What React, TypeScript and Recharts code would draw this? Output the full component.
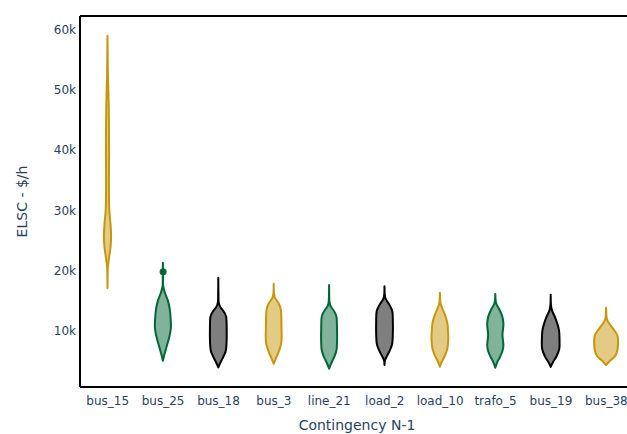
import { ComposedChart, Bar, Scatter, XAxis, YAxis, ReferenceLine } from "recharts";

// contingency cases along the x axis
const CATEGORIES = [
  "bus_15",
  "bus_25",
  "bus_18",
  "bus_3",
  "line_21",
  "load_2",
  "load_10",
  "trafo_5",
  "bus_19",
  "bus_38",
];

// violin outlines: [ELSC $/h, relative density]
// first and last entries are the min / max of each distribution
const PROFILES: [number, number][][] = [
  [[17100, 0], [19000, 0.01], [20500, 0.03], [22000, 0.12], [24000, 0.26], [26000, 0.3], [28000, 0.24], [30500, 0.14], [35000, 0.12], [40000, 0.13], [45000, 0.12], [48500, 0.09], [52000, 0.04], [55000, 0.02], [59000, 0]],
  [[5000, 0], [6000, 0.12], [7500, 0.33], [9000, 0.54], [10500, 0.67], [12000, 0.65], [13500, 0.58], [15000, 0.42], [16300, 0.17], [17500, 0.02], [19000, 0.01], [21300, 0]],
  [[3900, 0], [4800, 0.2], [5800, 0.45], [6800, 0.64], [8500, 0.7], [10500, 0.7], [12300, 0.66], [13200, 0.45], [14000, 0.15], [14800, 0.03], [16500, 0.01], [18800, 0]],
  [[4500, 0], [5500, 0.2], [6500, 0.42], [7800, 0.62], [9000, 0.67], [10500, 0.65], [12000, 0.64], [13500, 0.6], [14600, 0.4], [15500, 0.1], [16300, 0.02], [17800, 0]],
  [[3700, 0], [4600, 0.18], [5600, 0.42], [6800, 0.62], [8500, 0.67], [10500, 0.66], [12300, 0.62], [13300, 0.4], [14200, 0.1], [15200, 0.02], [17600, 0]],
  [[4300, 0], [5000, 0.03], [5600, 0.15], [6600, 0.42], [7800, 0.64], [9500, 0.7], [11500, 0.7], [13200, 0.66], [14300, 0.42], [15200, 0.12], [16000, 0.02], [17400, 0]],
  [[4000, 0], [4800, 0.15], [5800, 0.4], [7000, 0.62], [8500, 0.7], [10000, 0.68], [11300, 0.62], [12500, 0.45], [13600, 0.22], [14500, 0.06], [15300, 0.02], [16300, 0]],
  [[3850, 0], [4700, 0.15], [5600, 0.38], [6500, 0.58], [7600, 0.68], [9300, 0.6], [11000, 0.68], [12300, 0.6], [13500, 0.35], [14400, 0.1], [15200, 0.02], [16100, 0]],
  [[4000, 0], [4800, 0.2], [5800, 0.5], [7000, 0.72], [8500, 0.74], [10000, 0.7], [11200, 0.55], [12300, 0.35], [13300, 0.12], [14300, 0.02], [16000, 0]],
  [[4300, 0], [5000, 0.32], [5800, 0.76], [6800, 0.95], [8000, 1.0], [9200, 0.95], [10200, 0.64], [11200, 0.26], [12000, 0.06], [12800, 0.02], [13800, 0]],
];

// single outlier marker, bus_25 only
const OUTLIER_CATEGORY = "bus_25";
const OUTLIER_VALUE = 19800;

const Y_TICKS = [10000, 20000, 30000, 40000, 50000, 60000];
const Y_MIN = 650;
const Y_MAX = 62300;

const GOLD = "#C7970B";
const GREEN = "#016735";
const BLACK = "#000000";
const COLORS = [GOLD, GREEN, BLACK, GOLD, GREEN, BLACK, GOLD, GREEN, BLACK, GOLD];

const FONT = '"DejaVu Sans", Verdana, sans-serif';
const TEXT = "#2a3f5f";

const rows = CATEGORIES.map((name, i) => ({
  name,
  range: [PROFILES[i][0][0], PROFILES[i][PROFILES[i].length - 1][0]],
  profile: PROFILES[i],
  outlier: name === OUTLIER_CATEGORY ? OUTLIER_VALUE : null,
}));

// open catmull-rom through a list of points
function curve(pts: number[][]) {
  let d = "";
  for (let i = 0; i < pts.length - 1; i++) {
    const p0 = pts[i - 1] ?? pts[i];
    const p1 = pts[i];
    const p2 = pts[i + 1];
    const p3 = pts[i + 2] ?? pts[i + 1];
    const c1x = p1[0] + (p2[0] - p0[0]) / 6;
    const c1y = p1[1] + (p2[1] - p0[1]) / 6;
    const c2x = p2[0] - (p3[0] - p1[0]) / 6;
    const c2y = p2[1] - (p3[1] - p1[1]) / 6;
    d += ` C${c1x},${c1y} ${c2x},${c2y} ${p2[0]},${p2[1]}`;
  }
  return d;
}

function Violin(props: any) {
  const { x, y, width, height, payload } = props;
  const idx = CATEGORIES.indexOf(payload.name);
  const color = COLORS[idx];
  const profile: [number, number][] = payload.profile;
  const lo = profile[0][0];
  const hi = profile[profile.length - 1][0];
  const top = Math.min(y, y + height);
  const h = Math.abs(height);
  const cx = x + width / 2;
  const k = width * 0.217;
  const toY = (v: number) => top + (h * (hi - v)) / (hi - lo);
  const right = profile.map(([v, dn]) => [cx + dn * k, toY(v)]);
  const left = profile.map(([v, dn]) => [cx - dn * k, toY(v)]).reverse();
  const d =
    `M${right[0][0]},${right[0][1]}` +
    curve(right) +
    ` L${left[0][0]},${left[0][1]}` +
    curve(left) +
    " Z";
  return (
    <path
      d={d}
      fill={color}
      fillOpacity={0.5}
      stroke={color}
      strokeWidth={2}
      strokeLinejoin="round"
    />
  );
}

function OutlierDot(p: any) {
  if (p.payload?.outlier == null || !Number.isFinite(p.cy)) return <g />;
  return <circle cx={p.cx} cy={p.cy} r={3.5} fill={GREEN} />;
}

export default function App() {
  return (
    <div
      style={{
        position: "fixed",
        left: 0,
        top: 0,
        width: 627,
        height: 434,
        overflow: "hidden",
        background: "#fff",
      }}
    >
      <ComposedChart
        width={640}
        height={434}
        data={rows}
        margin={{ top: 16, right: 6, bottom: 0, left: 0 }}
        barCategoryGap={0}
      >
        <XAxis
          dataKey="name"
          height={47}
          tickLine={false}
          tickSize={0}
          tickMargin={9}
          axisLine={{ stroke: "#000", strokeWidth: 2 }}
          tick={{ fill: TEXT, fontSize: 12, fontFamily: FONT }}
          interval={0}
          label={(p: any) => {
            const vb = p.viewBox;
            return (
              <text
                x={vb.x + vb.width / 2}
                y={vb.y + 43}
                textAnchor="middle"
                fill={TEXT}
                fontSize={14}
                fontFamily={FONT}
              >
                Contingency N-1
              </text>
            );
          }}
        />
        <YAxis
          width={80}
          domain={[Y_MIN, Y_MAX]}
          ticks={Y_TICKS}
          allowDataOverflow
          tickLine={false}
          tickSize={0}
          tickMargin={4}
          axisLine={{ stroke: "#000", strokeWidth: 2 }}
          tick={{ fill: TEXT, fontSize: 12, fontFamily: FONT }}
          tickFormatter={(v: number) => `${v / 1000}k`}
          label={(p: any) => {
            const vb = p.viewBox;
            const cx = vb.x + 22;
            const cy = vb.y + vb.height / 2;
            return (
              <text
                x={cx}
                y={cy}
                transform={`rotate(-90 ${cx} ${cy})`}
                textAnchor="middle"
                dominantBaseline="central"
                fill={TEXT}
                fontSize={14}
                fontFamily={FONT}
              >
                ELSC - $/h
              </text>
            );
          }}
        />
        <ReferenceLine y={Y_MAX} stroke="#000" strokeWidth={2} />
        <Bar dataKey="range" shape={<Violin />} isAnimationActive={false} />
        <Scatter
          dataKey="outlier"
          fill={GREEN}
          shape={<OutlierDot />}
          isAnimationActive={false}
        />
      </ComposedChart>
    </div>
  );
}
